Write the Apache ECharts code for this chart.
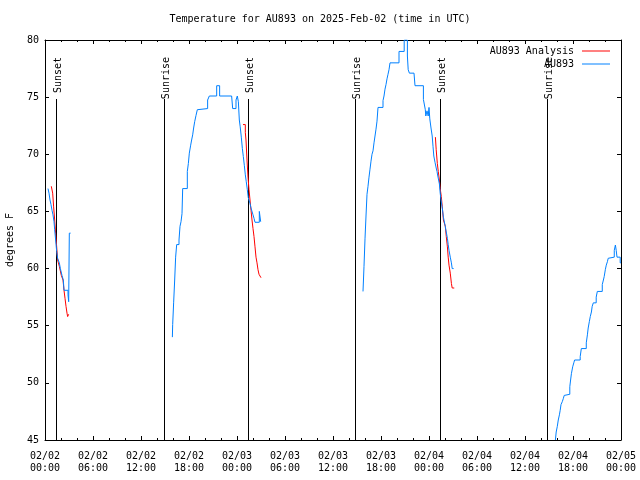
<!DOCTYPE html>
<html><head><meta charset="utf-8">
<script src="https://cdn.jsdelivr.net/npm/echarts@6/dist/echarts.min.js"></script>
<style>html,body{margin:0;padding:0;background:#fff}#c{width:640px;height:480px}</style>
</head><body><div id="c"></div>
<script>
// ---- data (x in hours since 2025-02-02 00:00 UTC, y in degrees F) ----
const titleText = 'Temperature for AU893 on 2025-Feb-02 (time in UTC)';
const yName = 'degrees F';
const xMin = 0, xMax = 72, xStep = 6;
const yMin = 45, yMax = 80, yStep = 5;
const startDay = 2;
const sunTimes = [1.375, 14.91, 25.41, 38.75, 49.41, 62.79];
const sunLabels = ['Sunset', 'Sunrise', 'Sunset', 'Sunrise', 'Sunset', 'Sunrise'];

const blueSeg1 = [[0.375,67.0],[0.5,66.6],[0.625,66.0],[0.75,65.6],[0.875,65.1],[1.0,64.7],[1.125,64.1],[1.21,63.4],[1.33,62.5],[1.46,61.5],[1.58,60.9],[1.79,60.5],[1.92,60.0],[2.125,59.4],[2.29,59.0],[2.375,58.1],[2.875,57.7],[2.96,57.1],[3.04,63.1],[3.2,63.1]];
const blueSeg2 = [[15.92,54.0],[15.96,55.1],[16.08,57.0],[16.21,59.0],[16.33,61.0],[16.46,62.1],[16.75,62.5],[16.875,63.7],[17.0,64.1],[17.125,64.8],[17.21,67.0],[17.79,68.5],[17.92,69.2],[18.04,70.1],[18.21,70.8],[18.33,71.25],[18.46,71.7],[18.58,72.3],[18.71,72.85],[18.875,73.4],[19.04,73.9],[19.21,74.0],[20.33,74.75],[20.54,75.1],[21.46,76.0],[21.83,75.1],[23.33,75.1],[23.46,74.0],[23.875,74.75],[24.04,75.1],[24.17,74.6],[24.29,73.0],[24.4,72.4],[24.54,71.5],[24.67,70.5],[24.79,69.8],[24.92,69.0],[25.04,68.2],[25.16,67.6],[25.29,66.9],[25.41,66.2],[25.625,65.7],[25.75,65.3],[26.0,64.7],[26.125,64.4],[26.25,64.05],[26.79,65.0],[26.96,64.1]];
const blueSeg3 = [[39.75,58.0],[39.875,60.2],[40.0,62.6],[40.125,64.6],[40.25,66.5],[40.375,67.2],[40.5,68.0],[40.625,68.7],[40.75,69.4],[40.875,70.0],[41.0,70.3],[41.125,71.0],[41.25,71.6],[41.375,72.2],[41.5,72.9],[41.625,74.1],[42.25,74.7],[42.375,75.1],[42.5,75.7],[42.625,76.1],[42.75,76.6],[42.875,77.0],[43.0,77.4],[43.125,78.0],[44.25,79.0],[44.9,80.0],[45.3,78.6],[45.4,77.4],[45.55,77.1],[46.125,77.0],[46.25,76.0],[47.3,74.8],[47.54,73.9],[47.6,73.35],[47.75,73.8],[47.9,73.35],[48.0,74.1],[48.1,73.1],[48.25,72.3],[48.4,71.6],[48.5,70.7],[48.6,69.85],[48.75,69.3],[48.9,68.8],[49.0,68.5],[49.1,68.1],[49.3,67.4],[49.4,66.6],[49.5,66.0],[49.66,65.3],[49.8,64.5],[50.0,63.8],[50.16,63.2],[50.3,62.65],[50.4,62.1],[50.5,61.6],[50.66,61.0],[50.8,60.5],[50.9,60.0],[51.08,60.0]];
const blueSeg4 = [[63.8,45.0],[63.9,45.7],[64.04,46.2],[64.16,46.75],[64.3,47.2],[64.4,47.6],[64.5,48.1],[64.66,48.35],[64.8,48.65],[64.9,48.9],[65.04,49.0],[65.6,49.66],[65.7,50.25],[65.8,50.8],[65.96,51.4],[66.1,51.75],[66.2,52.0],[66.9,52.3],[67.04,53.0],[67.66,53.5],[67.8,54.2],[67.9,54.8],[68.04,55.35],[68.16,55.8],[68.3,56.2],[68.4,56.7],[68.54,57.0],[68.9,57.5],[69.04,58.0],[69.66,58.6],[69.8,59.0],[69.9,59.3],[70.04,59.9],[70.16,60.3],[70.3,60.6],[70.4,60.9],[70.54,61.0],[71.16,61.6],[71.3,62.06],[71.4,61.6],[71.5,61.0],[71.9,60.5],[72.0,60.5]];

const redSeg1 = [[0.79,67.2],[0.96,66.6],[1.08,65.4],[1.21,64.25],[1.33,63.1],[1.46,61.9],[1.58,60.75],[1.79,60.2],[2.04,59.4],[2.25,59.0],[2.375,58.1],[2.5,57.4],[2.625,56.7],[2.75,56.1],[2.83,55.8],[2.96,56.0],[3.0,56.0]];
const redSeg2 = [[24.75,72.6],[25.04,71.9],[25.125,71.25],[25.25,69.5],[25.375,68.0],[25.5,66.9],[25.625,66.0],[25.75,65.1],[25.875,64.25],[26.0,63.5],[26.125,62.8],[26.25,61.9],[26.375,61.0],[26.5,60.5],[26.625,59.9],[26.75,59.5],[26.875,59.4],[27.0,59.2]];
const redSeg3 = [[48.8,71.5],[48.9,70.4],[49.04,69.2],[49.16,68.5],[49.3,67.75],[49.4,67.0],[49.54,66.3],[49.66,65.4],[49.8,64.25],[49.9,64.4],[50.04,63.7],[50.16,62.8],[50.3,61.9],[50.4,61.0],[50.5,60.3],[50.66,59.6],[50.8,58.7],[50.9,58.3],[51.16,58.3]];

const blueName = 'AU893', redName = 'AU893 Analysis';
const blueColor = '#0080ff', redColor = '#ff0000';

// ---- chart ----
const mono = '"DejaVu Sans Mono", monospace';
const pad = n => (n < 10 ? '0' : '') + n;
function xLabel(v) {
  const d = startDay + Math.floor(v / 24);
  const h = Math.round(v % 24);
  return '02/' + pad(d) + '\n' + pad(h) + ':00';
}
function lineSeries(name, color, data) {
  return { type: 'line', name, data, step: 'end', symbol: 'none', showSymbol: false,
    lineStyle: { color, width: 1 }, itemStyle: { color }, z: 3, animation: false, clip: true };
}
const axisCommon = {
  axisLine: { show: true, onZero: false, lineStyle: { color: '#000', width: 1 } },
  splitLine: { show: false }
};
const legendCommon = { right: 30, align: 'right', icon: 'rect', itemWidth: 28, itemHeight: 1, itemGap: 0,
  padding: 0, textStyle: { fontFamily: mono, fontSize: 10, color: '#000', padding: [0, 3, 0, 0] } };
const chart = echarts.init(document.getElementById('c'), null, { renderer: 'canvas' });
chart.setOption({
  animation: false,
  backgroundColor: '#fff',
  title: { text: titleText, left: 'center', top: 14, padding: 0,
    textStyle: { fontFamily: mono, fontSize: 10, fontWeight: 'normal', color: '#000' } },
  legend: [
    Object.assign({ data: [redName], top: 46 }, legendCommon),
    Object.assign({ data: [blueName], top: 59 }, legendCommon)
  ],
  grid: { left: 45, right: 19, top: 40, bottom: 40, containLabel: false, outerBoundsMode: 'none' },
  xAxis: [
    Object.assign({ type: 'value', min: xMin, max: xMax, interval: xStep, position: 'bottom',
      axisTick: { show: true, inside: true, length: 4, lineStyle: { color: '#000' } },
      minorTick: { show: true, splitNumber: 3, length: 2, lineStyle: { color: '#000' } },
      axisLabel: { formatter: xLabel, fontFamily: mono, fontSize: 10, color: '#000', lineHeight: 12, margin: 10 } }, axisCommon),
    Object.assign({ type: 'value', min: xMin, max: xMax, interval: xStep, position: 'top',
      axisTick: { show: true, inside: true, length: 4, lineStyle: { color: '#000' } },
      minorTick: { show: true, splitNumber: 3, length: 2, lineStyle: { color: '#000' } },
      axisLabel: { show: false } }, axisCommon)
  ],
  yAxis: [
    Object.assign({ type: 'value', min: yMin, max: yMax, interval: yStep, position: 'left',
      name: yName, nameLocation: 'middle', nameGap: 30, nameRotate: 90,
      nameTextStyle: { fontFamily: mono, fontSize: 10, color: '#000' },
      axisTick: { show: true, inside: true, length: 4, lineStyle: { color: '#000' } },
      axisLabel: { fontFamily: mono, fontSize: 10, color: '#000', margin: 6 } }, axisCommon),
    Object.assign({ type: 'value', min: yMin, max: yMax, interval: yStep, position: 'right',
      axisTick: { show: true, inside: true, length: 4, lineStyle: { color: '#000' } },
      axisLabel: { show: false } }, axisCommon)
  ],
  series: [
    lineSeries(redName, redColor, redSeg1),
    lineSeries(redName, redColor, redSeg2),
    lineSeries(redName, redColor, redSeg3),
    lineSeries(blueName, blueColor, blueSeg1),
    lineSeries(blueName, blueColor, blueSeg2),
    lineSeries(blueName, blueColor, blueSeg3),
    lineSeries(blueName, blueColor, blueSeg4),
    {
      type: 'custom', name: 'sun', z: 2, animation: false,
      data: sunTimes.map(t => [t, yMax]),
      encode: { x: 0, y: 1 },
      renderItem: function (params, api) {
        const t = api.value(0);
        const bottom = api.coord([t, yMin]);
        const top = api.coord([t, yMax]);
        const px = Math.round(bottom[0]) + 0.5;
        return { type: 'group', children: [
          { type: 'line', shape: { x1: px, y1: bottom[1], x2: px, y2: top[1] + 59 },
            style: { stroke: '#000', lineWidth: 1 } },
          { type: 'text', x: px + 1.5, y: top[1] + 17, rotation: Math.PI / 2,
            style: { text: sunLabels[params.dataIndex], font: '10px ' + mono, fill: '#000',
              align: 'right', verticalAlign: 'middle' } }
        ] };
      }
    }
  ]
});
</script></body></html>
